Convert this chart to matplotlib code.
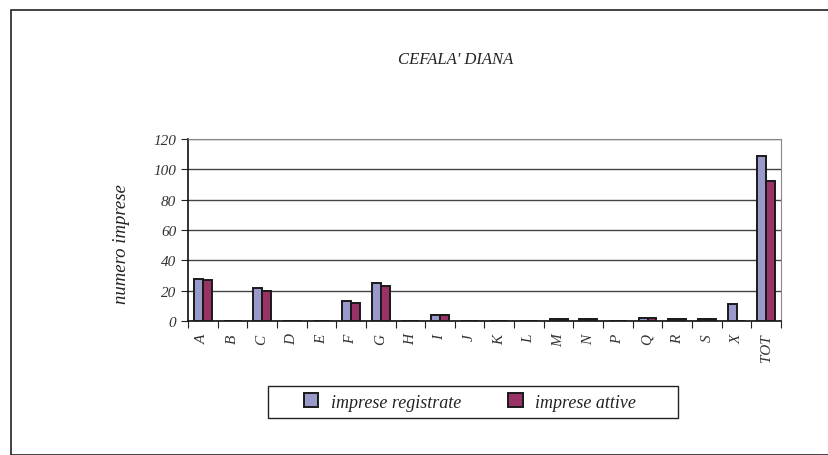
import numpy as np
import matplotlib.pyplot as plt
from matplotlib.patches import Rectangle

# dati
categorie = ['A', 'B', 'C', 'D', 'E', 'F', 'G', 'H', 'I', 'J', 'K', 'L',
             'M', 'N', 'P', 'Q', 'R', 'S', 'X', 'TOT']
registrate = [28, 0, 22, 0, 0, 13, 25, 0, 4, 0, 0, 0, 1, 1, 0, 2, 1, 1, 11, 109]
attive = [27, 0, 20, 0, 0, 12, 23, 0, 4, 0, 0, 0, 1, 1, 0, 2, 1, 1, 0, 92]

plt.rcParams['font.family'] = ['Liberation Serif', 'DejaVu Serif']

W, H = 829, 456
fig = plt.figure(figsize=(W / 100, H / 100), dpi=100)

# cornice esterna
fig.patches.append(Rectangle((11 / W, 0), 1.0, 1 - 11 / H, transform=fig.transFigure,
                             fill=False, edgecolor='#222222', linewidth=1.2))

ax = fig.add_axes([188 / W, 1 - 322 / H, (781 - 188) / W, (322 - 140) / H])

x = np.arange(len(categorie))
w = 0.3
ax.bar(x - w / 2, registrate, w, color='#9999cc', edgecolor='#1a1a1a', linewidth=1.4,
       label='imprese registrate', zorder=3)
ax.bar(x + w / 2, attive, w, color='#993366', edgecolor='#1a1a1a', linewidth=1.4,
       label='imprese attive', zorder=3)

ax.set_xlim(-0.5, len(categorie) - 0.5)
ax.set_ylim(0, 120)
ax.set_yticks(range(0, 121, 20))
ax.yaxis.grid(True, color='#444444', linewidth=1.0, zorder=0)

# tick tra le categorie, etichette al centro
ax.set_xticks(np.arange(len(categorie) + 1) - 0.5)
ax.set_xticklabels([])
ax.set_xticks(x, minor=True)
ax.set_xticklabels(categorie, minor=True, rotation=90, style='italic', fontsize=11,
                   color='#333333')
ax.tick_params(axis='x', which='minor', length=0, pad=9)
ax.tick_params(axis='x', which='major', length=5, direction='out', color='#222222')
ax.tick_params(axis='y', length=5, direction='out', color='#222222', labelsize=11,
               labelcolor='#333333')
for t in ax.get_yticklabels():
    t.set_style('italic')

for s in ['top', 'right']:
    ax.spines[s].set_color('#888888')
for s in ['left', 'bottom']:
    ax.spines[s].set_color('#111111')
    ax.spines[s].set_linewidth(1.2)

ax.set_ylabel('numero imprese', style='italic', fontsize=13.5, color='#222222')
ax.yaxis.set_label_coords((130 - 188) / 593, (322 - 244) / 182)
fig.text(456 / W, 1 - 60 / H, "CEFALA' DIANA", style='italic', fontsize=12,
         ha='center', va='center', color='#222222')

# legenda con cornice disegnata a parte (più larga, come Excel)
fig.patches.append(Rectangle((268 / W, 1 - 419 / H), (678 - 268) / W, 32 / H,
                             transform=fig.transFigure, fill=False,
                             edgecolor='#222222', linewidth=1.0))
leg = fig.legend(loc='center', bbox_to_anchor=(470 / W, 1 - 403 / H), ncol=2,
                 frameon=False, prop={'style': 'italic', 'size': 13},
                 handlelength=0.8, handleheight=0.8, columnspacing=2.6,
                 borderpad=0.0, handletextpad=0.7)
for t in leg.get_texts():
    t.set_color('#222222')

fig.savefig('out.png', dpi=100)
